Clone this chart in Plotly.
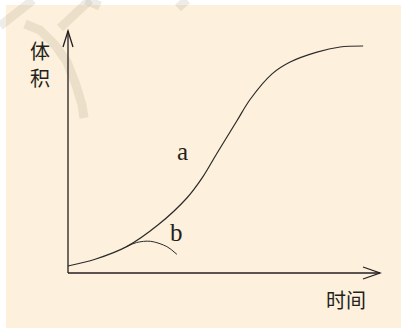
import plotly.graph_objects as go

# ---- data (time %, volume %) ----
a_time = [0, 8.7, 18.8, 28.8, 38.1, 43.0, 47.8, 54.2, 58.3, 65.4, 71.2, 79.8, 87.2, 94.6]
a_vol = [2.9, 5.7, 10.9, 19.8, 31.0, 39.3, 49.6, 63.0, 71.6, 82.3, 87.2, 91.3, 93.4, 93.8]
b_time = [18.8, 22.0, 26.5, 31.7, 34.9]
b_vol = [10.9, 12.6, 13.1, 10.9, 7.7]
y_label = ["体", "积"]
x_label = "时间"
curve_labels = ["a", "b"]

W, H = 401, 328
X0PX, Y0PX = 68, 273   # origin pixel
SX, SY = 3.12, 2.42     # px per unit
xr = [-X0PX / SX, (W - X0PX) / SX]
yr = [(Y0PX - H) / SY, Y0PX / SY]

def dx(px):
    return (px - X0PX) / SX

def dy(py):
    return (Y0PX - py) / SY

INK = "#231f20"
fig = go.Figure()
fig.add_trace(go.Scatter(x=a_time, y=a_vol, mode="lines",
                         line=dict(color="#2b2b2b", width=1.2, shape="spline", smoothing=0.9),
                         hoverinfo="skip"))
fig.add_trace(go.Scatter(x=b_time, y=b_vol, mode="lines",
                         line=dict(color="#2b2b2b", width=1.0, shape="spline", smoothing=0.9),
                         hoverinfo="skip"))

shapes = []
# beige panel
shapes.append(dict(type="rect", xref="paper", yref="paper", x0=6 / W, x1=1, y0=0, y1=1 - 5 / H,
                   fillcolor="#fdf0dc", line=dict(width=0), layer="below"))

# watermark strokes
wm = "rgba(150,135,115,0.16)"
def path(pts):
    return "M " + " L ".join(f"{dx(x):.3f},{dy(y):.3f}" for x, y in pts)
wm_paths = [
    [(0, 26), (33, 0)],
    [(25, 24), (40, 30), (55, 45), (67, 62), (76, 85), (82, 105), (84, 118)],
    [(60, 28), (90, 0)],
    [(86, 0), (100, 6)],
    [(187, 0), (178, 8)],
]
for p in wm_paths:
    shapes.append(dict(type="path", path=path(p), xref="x", yref="y",
                       line=dict(color=wm, width=9), layer="below"))

# axes with open arrowheads
ax_w = 1.3
shapes.append(dict(type="line", xref="x", yref="y", x0=0, y0=0, x1=0, y1=100, line=dict(color=INK, width=ax_w)))
shapes.append(dict(type="line", xref="x", yref="y", x0=0, y0=0, x1=100, y1=0, line=dict(color=INK, width=ax_w)))
shapes.append(dict(type="path", xref="x", yref="y",
                   path=f"M {dx(63)},{dy(47)} L 0,100 L {dx(73)},{dy(47)}",
                   line=dict(color=INK, width=ax_w)))
shapes.append(dict(type="path", xref="x", yref="y",
                   path=f"M {dx(363)},{dy(267)} L 100,0 L {dx(363)},{dy(279)}",
                   line=dict(color=INK, width=ax_w)))

cjk = "Noto Sans CJK SC"
annotations = [
    dict(x=dx(40), y=dy(50), text=y_label[0], showarrow=False, font=dict(family=cjk, size=20, color=INK)),
    dict(x=dx(40), y=dy(77), text=y_label[1], showarrow=False, font=dict(family=cjk, size=20, color=INK)),
    dict(x=dx(346), y=dy(299), text=x_label, showarrow=False, font=dict(family=cjk, size=20, color=INK)),
    dict(x=dx(182.5), y=dy(151), text=curve_labels[0], showarrow=False,
         font=dict(family="Liberation Serif", size=25, color=INK)),
    dict(x=dx(176.5), y=dy(232), text=curve_labels[1], showarrow=False,
         font=dict(family="Liberation Serif", size=25, color=INK)),
]

fig.update_layout(
    width=W, height=H, margin=dict(l=0, r=0, t=0, b=0, pad=0),
    paper_bgcolor="white", plot_bgcolor="rgba(0,0,0,0)",
    showlegend=False, shapes=shapes, annotations=annotations,
    xaxis=dict(range=xr, visible=False, fixedrange=True),
    yaxis=dict(range=yr, visible=False, fixedrange=True),
)
fig.write_html("out.html", config={"displayModeBar": False},
               post_script="document.body.style.margin='0';document.body.style.overflow='hidden';")
